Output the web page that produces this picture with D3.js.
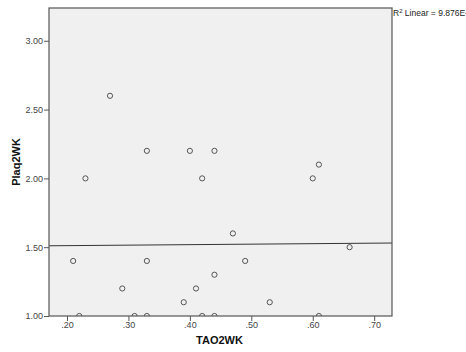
<!DOCTYPE html>
<html>
<head>
<meta charset="utf-8">
<script src="https://cdn.jsdelivr.net/npm/d3@7"></script>
<style>
  body { margin: 0; background: #fff; }
  svg { display: block; font-family: Arial, "Liberation Sans", sans-serif; }
</style>
</head>
<body>
<script>
// TAO2WK vs Plaq2WK
const tao = [0.27, 0.23, 0.33, 0.40, 0.44, 0.42, 0.60, 0.61, 0.47, 0.66, 0.21, 0.33, 0.49, 0.44, 0.29, 0.41, 0.39, 0.53, 0.22, 0.31, 0.33, 0.42, 0.44, 0.61];
const plaq = [2.6, 2.0, 2.2, 2.2, 2.2, 2.0, 2.0, 2.1, 1.6, 1.5, 1.4, 1.4, 1.4, 1.3, 1.2, 1.2, 1.1, 1.1, 1.0, 1.0, 1.0, 1.0, 1.0, 1.0];
const xTicks = [0.2, 0.3, 0.4, 0.5, 0.6, 0.7];
const yTicks = [1.0, 1.5, 2.0, 2.5, 3.0];
const fit = { intercept: 1.504, slope: 0.036 };
const r2Label = "Linear = 9.876E-5";

const width = 466, height = 352;
const mLeft = 49, mRight = 392, mTop = 8, mBottom = 316;

const svg = d3.select("body").append("svg")
  .attr("width", width)
  .attr("height", height);

const x = d3.scaleLinear().domain([0.1707, 0.729]).range([mLeft, mRight]);
const y = d3.scaleLinear().domain([1.0, 3.238]).range([mBottom, mTop]);

svg.append("defs").append("clipPath").attr("id", "plot")
  .append("rect")
  .attr("x", mLeft).attr("y", mTop)
  .attr("width", mRight - mLeft).attr("height", mBottom - mTop);

svg.append("rect")
  .attr("x", mLeft).attr("y", mTop)
  .attr("width", mRight - mLeft).attr("height", mBottom - mTop)
  .attr("fill", "#f0f0f0");

// fit line
const x0 = x.domain()[0], x1 = x.domain()[1];
svg.append("line")
  .attr("clip-path", "url(#plot)")
  .attr("x1", x(x0)).attr("y1", y(fit.intercept + fit.slope * x0))
  .attr("x2", x(x1)).attr("y2", y(fit.intercept + fit.slope * x1))
  .attr("stroke", "#333").attr("stroke-width", 1);

// points
svg.append("g").attr("clip-path", "url(#plot)")
  .selectAll("circle")
  .data(tao.map((t, i) => [t, plaq[i]]))
  .join("circle")
  .attr("cx", d => x(d[0]))
  .attr("cy", d => y(d[1]))
  .attr("r", 2.6)
  .attr("fill", "none")
  .attr("stroke", "#555")
  .attr("stroke-width", 1);

// frame
svg.append("rect")
  .attr("x", mLeft).attr("y", mTop)
  .attr("width", mRight - mLeft).attr("height", mBottom - mTop)
  .attr("fill", "none")
  .attr("stroke", "#555").attr("stroke-width", 1.2);

const xAxis = svg.append("g")
  .attr("transform", `translate(0,${mBottom})`)
  .call(d3.axisBottom(x).tickValues(xTicks).tickSize(5).tickPadding(1)
    .tickFormat(d => d3.format(".2f")(d).replace(/^0/, "")));
const yAxis = svg.append("g")
  .attr("transform", `translate(${mLeft},0)`)
  .call(d3.axisLeft(y).tickValues(yTicks).tickSize(5).tickPadding(1)
    .tickFormat(d3.format(".2f")));

[xAxis, yAxis].forEach(g => {
  g.select(".domain").remove();
  g.selectAll(".tick line").attr("stroke", "#555");
  g.selectAll(".tick text").attr("fill", "#444").attr("font-size", 9);
});

svg.append("text")
  .attr("x", (mLeft + mRight) / 2 - 1).attr("y", 344)
  .attr("text-anchor", "middle")
  .attr("font-size", 11).attr("font-weight", "bold").attr("fill", "#111")
  .text("TAO2WK");

svg.append("text")
  .attr("transform", `translate(20,${(mTop + mBottom) / 2}) rotate(-90)`)
  .attr("text-anchor", "middle")
  .attr("font-size", 11).attr("font-weight", "bold").attr("fill", "#111")
  .text("Plaq2WK");

const r2 = svg.append("text")
  .attr("x", mRight + 1).attr("y", 16)
  .attr("font-size", 8.5).attr("fill", "#222");
r2.append("tspan").text("R");
r2.append("tspan").attr("dy", -3).attr("font-size", 6).text("2");
r2.append("tspan").attr("dy", 3).text(" " + r2Label);
</script>
</body>
</html>
